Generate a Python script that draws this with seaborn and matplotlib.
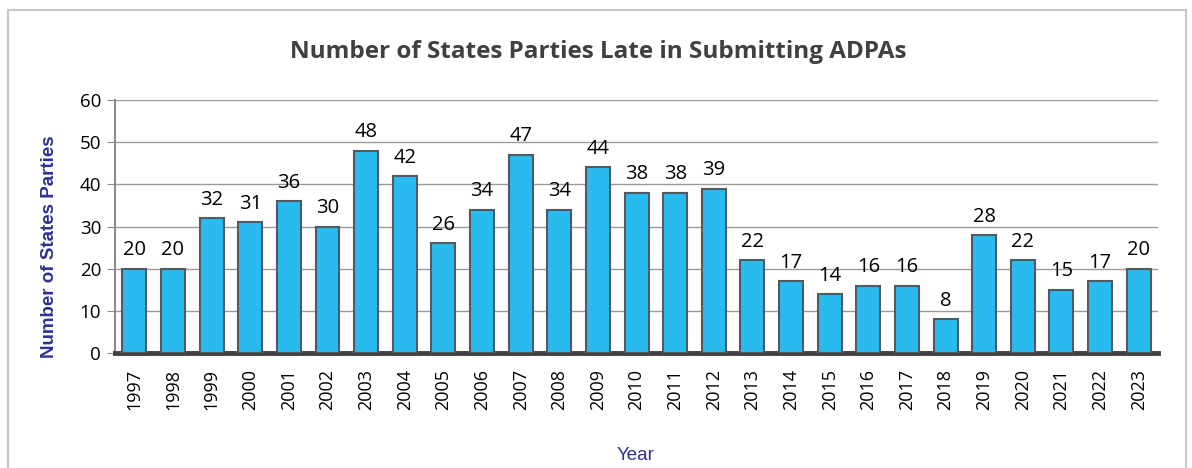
import numpy as np
import pandas as pd
import matplotlib
matplotlib.use('Agg')
import matplotlib.pyplot as plt
from matplotlib.patches import Rectangle
import seaborn as sns

# data
years = [str(y) for y in range(1997, 2024)]
late_parties = [20, 20, 32, 31, 36, 30, 48, 42, 26, 34, 47, 34, 44, 38, 38, 39,
                22, 17, 14, 16, 16, 8, 28, 22, 15, 17, 20]

df = pd.DataFrame({'Year': years, 'Late': late_parties})

sns.set_style('white')
plt.rcParams['font.family'] = ['Open Sans', 'DejaVu Sans']

fig = plt.figure(figsize=(11.92, 4.68), dpi=100)
ax = fig.add_axes([0.0965, 0.2457, 0.875, 0.5406])

# outer chart border
fig.patches.append(Rectangle((8/1192, -0.01), 1178/1192, 1 - 10/468 + 0.01,
                             transform=fig.transFigure, fill=False,
                             edgecolor='#c8c8c8', linewidth=1.5))

sns.barplot(data=df, x='Year', y='Late', color='#29BAEF', saturation=1,
            edgecolor='#505a60', linewidth=1.5, width=0.62, ax=ax, zorder=3)

ax.set_ylim(0, 60)
ax.set_xlim(-0.5, len(years) - 0.5)
ax.set_yticks(range(0, 61, 10))
ax.yaxis.grid(True, color='#9a9a9a', linewidth=1, zorder=0)
ax.set_axisbelow(True)

for s in ['top', 'right']:
    ax.spines[s].set_visible(False)
ax.spines['left'].set_color('#8c8c8c')
ax.spines['left'].set_linewidth(1.5)
ax.spines['bottom'].set_color('#404040')
ax.spines['bottom'].set_linewidth(3.5)

ax.tick_params(axis='y', left=True, length=6, color='#8c8c8c', labelsize=13.5,
               labelcolor='black', pad=4)
ax.tick_params(axis='x', bottom=False, labelsize=13, labelcolor='black',
               labelrotation=90, pad=8)

for c in ax.containers:
    ax.bar_label(c, labels=[str(v) for v in late_parties], padding=6,
                 fontsize=14.5, color='black')

ax.set_xlabel('')
ax.set_ylabel('Number of States Parties', fontsize=13.5, color='#2E3192',
              family='Liberation Sans', fontweight='bold')
ax.yaxis.set_label_coords(-0.055, 0.42)

fig.text(636/1192, 1 - 455/468, 'Year', ha='center', va='center', fontsize=13.5,
         color='#2E3192', family='Liberation Sans')

fig.text(0.502, 0.889, 'Number of States Parties Late in Submitting ADPAs',
         ha='center', va='center', fontsize=17.5, fontweight='bold', color='#404040')

plt.savefig('out.png', dpi=100)
